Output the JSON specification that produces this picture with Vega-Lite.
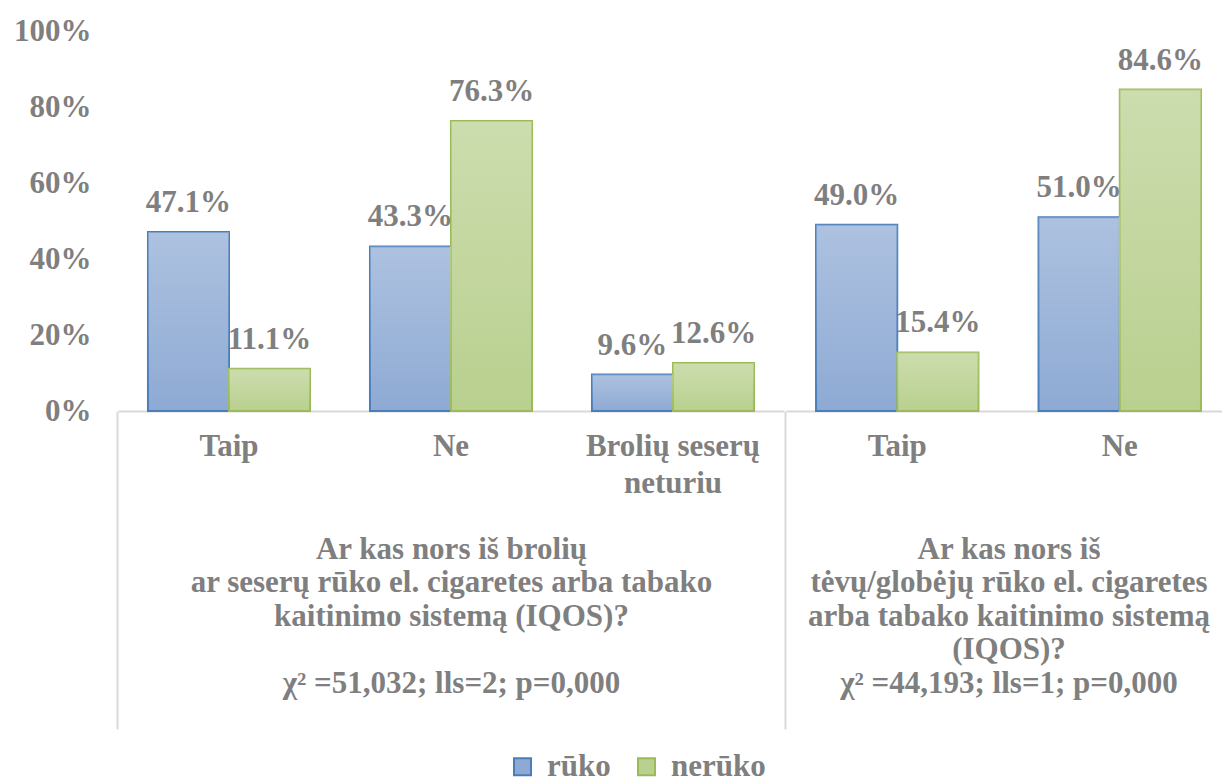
{
  "$schema": "https://vega.github.io/schema/vega-lite/v6.json",
  "background": "white",
  "padding": {"left": 13, "top": 15, "right": 0, "bottom": 0},
  "spacing": 0,
  "data": {
    "values": [
      {"group": "broliai", "category": "Taip", "series": "rūko", "value": 0.471},
      {"group": "broliai", "category": "Taip", "series": "nerūko", "value": 0.111},
      {"group": "broliai", "category": "Ne", "series": "rūko", "value": 0.433},
      {"group": "broliai", "category": "Ne", "series": "nerūko", "value": 0.763},
      {"group": "broliai", "category": "Brolių seserų neturiu", "series": "rūko", "value": 0.096},
      {"group": "broliai", "category": "Brolių seserų neturiu", "series": "nerūko", "value": 0.126},
      {"group": "tevai", "category": "Taip", "series": "rūko", "value": 0.490},
      {"group": "tevai", "category": "Taip", "series": "nerūko", "value": 0.154},
      {"group": "tevai", "category": "Ne", "series": "rūko", "value": 0.510},
      {"group": "tevai", "category": "Ne", "series": "nerūko", "value": 0.846}
    ]
  },
  "resolve": {"scale": {"x": "independent", "xOffset": "independent", "y": "shared", "fill": "shared", "stroke": "shared"}},
  "hconcat": [
    {
      "width": 666,
      "height": 380,
      "transform": [{"filter": "datum.group == 'broliai'"}],
      "encoding": {
        "x": {
          "field": "category", "type": "nominal",
          "sort": ["Taip", "Ne", "Brolių seserų neturiu"],
          "scale": {"paddingInner": 0.27, "paddingOuter": 0.135},
          "axis": {
            "title": ["Ar kas nors iš brolių", "ar seserų rūko el. cigaretes arba tabako", "kaitinimo sistemą (IQOS)?", "\u200b", "χ² =51,032; lls=2; p=0,000"],
            "titleY": 123, "titleBaseline": "top", "titleLineHeight": 33.5, "titleAnchor": "middle",
            "labelExpr": "datum.value == 'Brolių seserų neturiu' ? ['Brolių seserų', 'neturiu'] : datum.value",
            "labelAngle": 0, "labelLineHeight": 37, "labelPadding": -298,
            "tickSize": 318, "tickWidth": 2, "bandPosition": -0.185,
            "tickColor": {"condition": {"test": "datum.value == 'Taip'", "value": "#d9d9d9"}, "value": "transparent"}
          }
        },
        "xOffset": {"field": "series", "type": "nominal", "sort": ["rūko", "nerūko"], "scale": {"paddingInner": 0, "paddingOuter": 0}},
        "y": {
          "field": "value", "type": "quantitative",
          "scale": {"domain": [0, 1]},
          "axis": {"title": null, "format": "%", "values": [0, 0.2, 0.4, 0.6, 0.8, 1], "domain": false, "ticks": false, "tickSize": 0, "grid": false, "labelPadding": 27}
        }
      },
      "layer": [
        {
          "mark": {"type": "bar", "strokeWidth": 2},
          "encoding": {
            "fill": {"field": "series", "type": "nominal", "sort": ["rūko", "nerūko"], "scale": {"domain": ["rūko", "nerūko"], "range": ["#8eaad4", "#b9d08f"]}, "legend": {"title": null}},
            "stroke": {"field": "series", "type": "nominal", "sort": ["rūko", "nerūko"], "scale": {"domain": ["rūko", "nerūko"], "range": ["#4a7ebb", "#9bbb59"]}, "legend": {"title": null}}
          }
        },
        {
          "mark": {"type": "bar", "fill": {"gradient": "linear", "x1": 0, "y1": 0, "x2": 0, "y2": 1, "stops": [{"offset": 0, "color": "rgba(255,255,255,0.28)"}, {"offset": 1, "color": "rgba(255,255,255,0)"}]}}
        },
        {
          "mark": {"type": "text", "baseline": "alphabetic", "dy": -20, "fontSize": 31, "fontWeight": "bold", "font": "Liberation Serif", "color": "#7f7f7f"},
          "encoding": {"text": {"field": "value", "type": "quantitative", "format": ".1%"}}
        }
      ]
    },
    {
      "width": 445,
      "height": 380,
      "transform": [{"filter": "datum.group == 'tevai'"}],
      "encoding": {
        "x": {
          "field": "category", "type": "nominal",
          "sort": ["Taip", "Ne"],
          "scale": {"paddingInner": 0.27, "paddingOuter": 0.135},
          "axis": {
            "title": ["Ar kas nors iš", "tėvų/globėjų rūko el. cigaretes", "arba tabako kaitinimo sistemą", "(IQOS)?", "χ² =44,193; lls=1; p=0,000"],
            "titleY": 123, "titleBaseline": "top", "titleLineHeight": 33.5, "titleAnchor": "middle",
            "labelAngle": 0, "labelLineHeight": 37, "labelPadding": -298,
            "tickSize": 318, "tickWidth": 2, "bandPosition": -0.185,
            "tickColor": {"condition": {"test": "datum.value == 'Taip'", "value": "#d9d9d9"}, "value": "transparent"}
          }
        },
        "xOffset": {"field": "series", "type": "nominal", "sort": ["rūko", "nerūko"], "scale": {"paddingInner": 0, "paddingOuter": 0}},
        "y": {"field": "value", "type": "quantitative", "scale": {"domain": [0, 1]}, "axis": null}
      },
      "layer": [
        {
          "mark": {"type": "bar", "strokeWidth": 2},
          "encoding": {
            "fill": {"field": "series", "type": "nominal", "sort": ["rūko", "nerūko"], "scale": {"domain": ["rūko", "nerūko"], "range": ["#8eaad4", "#b9d08f"]}, "legend": {"title": null}},
            "stroke": {"field": "series", "type": "nominal", "sort": ["rūko", "nerūko"], "scale": {"domain": ["rūko", "nerūko"], "range": ["#4a7ebb", "#9bbb59"]}, "legend": {"title": null}}
          }
        },
        {
          "mark": {"type": "bar", "fill": {"gradient": "linear", "x1": 0, "y1": 0, "x2": 0, "y2": 1, "stops": [{"offset": 0, "color": "rgba(255,255,255,0.28)"}, {"offset": 1, "color": "rgba(255,255,255,0)"}]}}
        },
        {
          "mark": {"type": "text", "baseline": "alphabetic", "dy": -20, "fontSize": 31, "fontWeight": "bold", "font": "Liberation Serif", "color": "#7f7f7f"},
          "encoding": {"text": {"field": "value", "type": "quantitative", "format": ".1%"}}
        }
      ]
    }
  ],
  "config": {
    "view": {"stroke": null},
    "font": "Liberation Serif",
    "axis": {
      "labelFont": "Liberation Serif", "labelFontSize": 31, "labelFontWeight": "bold", "labelColor": "#7f7f7f",
      "titleFont": "Liberation Serif", "titleFontSize": 31, "titleFontWeight": "bold", "titleColor": "#7f7f7f",
      "domainColor": "#d9d9d9", "domainWidth": 2
    },
    "legend": {
      "orient": "none", "legendX": 389, "legendY": 720, "direction": "horizontal",
      "symbolType": "square", "symbolSize": 289, "symbolStrokeWidth": 2,
      "labelFont": "Liberation Serif", "labelFontSize": 31, "labelFontWeight": "bold", "labelColor": "#7f7f7f",
      "columnPadding": 20, "labelOffset": 9
    }
  }
}
